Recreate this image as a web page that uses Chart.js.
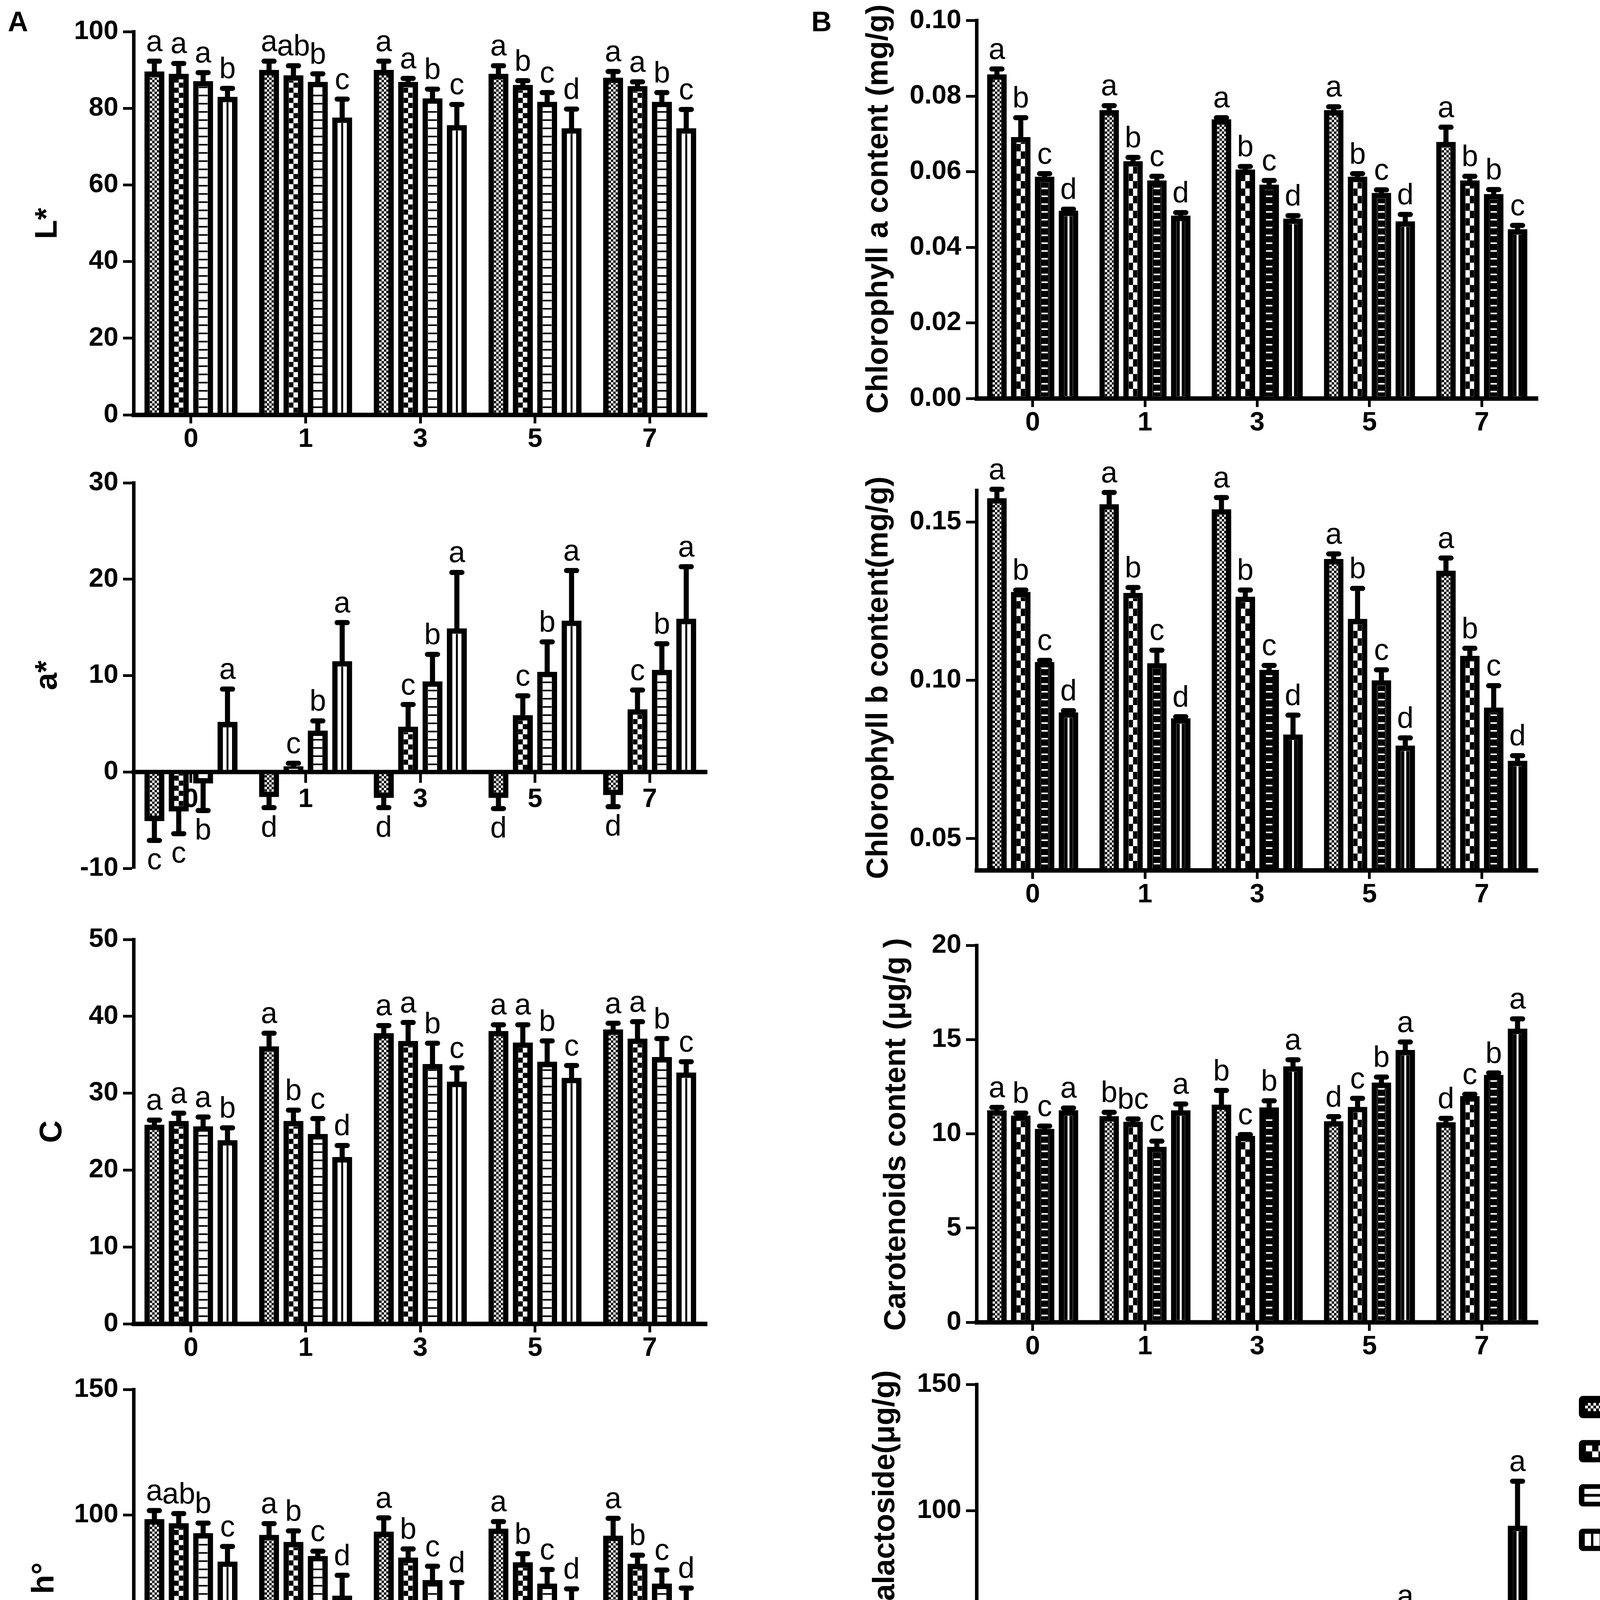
<!DOCTYPE html>
<html lang="en">
<head>
<meta charset="UTF-8">
<title>Dark treatment: colour and pigment content</title>
<script src="https://cdn.jsdelivr.net/npm/chart.js"></script>
<style>
  body { margin: 0; background: #fff; width: 4317px; height: 4766px; position: relative; overflow: hidden;
         font-family: 'Liberation Sans', Arial, sans-serif; color: #000; }
  canvas { position: absolute; }
  .ttl { position: absolute; font-weight: bold; white-space: nowrap; line-height: 1;
         transform: translate(-50%, -50%) rotate(-90deg); }
  .xt { position: absolute; font-weight: bold; font-size: 78px; white-space: nowrap; line-height: 1;
        transform: translate(-50%, -50%); }
  .pl { position: absolute; font-weight: bold; font-size: 72px; line-height: 1; }
</style>
</head>
<body>
<div class="pl" style="left:20px;top:19px">A</div>
<div class="pl" style="left:2077px;top:19px">B</div>

<div class="ttl" style="left:118px;top:572px;font-size:80px">L*</div>
<div class="ttl" style="left:118px;top:1729px;font-size:80px">a*</div>
<div class="ttl" style="left:130px;top:2897px;font-size:80px">C</div>
<div class="ttl" style="left:110px;top:4040px;font-size:80px">h°</div>

<div class="ttl" style="left:2245px;top:535px;font-size:77px">Chlorophyll a content (mg/g)</div>
<div class="ttl" style="left:2245px;top:1735px;font-size:77px">Chlorophyll b content(mg/g)</div>
<div class="ttl" style="left:2290px;top:2904px;font-size:77px">Carotenoids content (μg/g )</div>
<div class="ttl" style="left:2262px;top:4036px;font-size:77px">Cyanidin-3-galactoside(μg/g)</div>

<div class="xt" style="left:1076px;top:4702px">Dark treatment time (day)</div>
<div class="xt" style="left:3210px;top:4702px">Dark treatment time (day)</div>

<script>
const days = ['0', '1', '3', '5', '7'];
const groups = ['CK', 'G1', 'G2', 'G3'];

// L*  (rows: CK, G1, G2, G3; columns: days)
const lMean = [[89.6, 90.0, 90.0, 89.0, 88.0], [89.0, 88.6, 86.9, 86.1, 85.8], [87.1, 86.9, 82.6, 81.7, 81.7], [83.0, 77.6, 75.6, 74.8, 74.8]];
const lErr  = [[2.7, 2.3, 2.3, 2.1, 1.6], [2.7, 2.5, 0.9, 1.1, 1.1], [2.2, 2.1, 2.4, 2.4, 2.4], [2.2, 4.8, 5.4, 5.0, 4.9]];
const lSig  = [['a','a','a','a','a'], ['a','ab','a','b','a'], ['a','b','b','c','b'], ['b','c','c','d','c']];
const lTicks = [0, 20, 40, 60, 80, 100];

// a*
const aMean = [[-5.1, -2.6, -2.7, -2.7, -2.4], [-4.1, 0.6, 4.7, 5.9, 6.5], [-1.2, 4.3, 9.4, 10.4, 10.6], [5.2, 11.5, 14.9, 15.7, 15.9]];
const aErr  = [[2.0, 1.1, 1.0, 1.1, 1.2], [2.3, 0.3, 2.3, 2.0, 2.0], [2.8, 1.0, 2.8, 3.1, 2.7], [3.4, 4.0, 5.8, 5.2, 5.4]];
const aSig  = [['c','d','d','d','d'], ['c','c','c','c','c'], ['b','b','b','b','b'], ['a','a','a','a','a']];
const aTicks = [-10, 0, 10, 20, 30];

// C
const cMean = [[25.9, 36.1, 37.8, 38.1, 38.3], [26.4, 26.4, 36.8, 36.6, 37.1], [25.7, 24.7, 33.8, 34.1, 34.7], [23.9, 21.7, 31.5, 32.0, 32.7]];
const cErr  = [[0.6, 1.7, 1.0, 0.8, 0.8], [1.0, 1.4, 2.4, 2.3, 2.2], [1.2, 2.0, 2.7, 2.7, 2.4], [1.6, 1.5, 1.8, 1.6, 1.4]];
const cSig  = [['a','a','a','a','a'], ['a','b','a','a','a'], ['a','c','b','b','b'], ['b','d','c','c','c']];
const cTicks = [0, 10, 20, 30, 40, 50];

// h°
const hMean = [[98.3, 92.0, 93.3, 94.5, 91.7], [96.7, 89.2, 83.0, 81.1, 80.5], [92.7, 83.6, 74.0, 72.6, 72.6], [81.4, 67.8, 61.8, 60.5, 60.5]];
const hErr  = [[3.4, 4.5, 5.5, 2.8, 6.9], [3.8, 4.4, 3.4, 3.4, 3.4], [4.0, 1.9, 5.5, 5.6, 5.4], [6.0, 8.1, 11.2, 10.0, 10.3]];
const hSig  = [['a','a','a','a','a'], ['ab','b','b','b','b'], ['b','c','c','c','c'], ['c','d','d','d','d']];
const hTicks = [0, 50, 100, 150];

// Chlorophyll a
const chlaMean = [[0.0858, 0.0763, 0.0739, 0.0763, 0.0679], [0.0692, 0.0628, 0.0606, 0.0587, 0.0577], [0.0587, 0.0577, 0.0566, 0.0544, 0.0541], [0.0497, 0.0484, 0.0476, 0.0469, 0.0448]];
const chlaErr  = [[0.0014, 0.0012, 0.0004, 0.0009, 0.0039], [0.0051, 0.0010, 0.0008, 0.0008, 0.0011], [0.0008, 0.0011, 0.0011, 0.0008, 0.0012], [0.0004, 0.0008, 0.0008, 0.0018, 0.0010]];
const chlaSig  = [['a','a','a','a','a'], ['b','b','b','b','b'], ['c','c','c','c','b'], ['d','d','d','d','c']];
const chlaTicks = [0, 0.02, 0.04, 0.06, 0.08, 0.10];

// Chlorophyll b
const chlbMean = [[0.1575, 0.1556, 0.1540, 0.1383, 0.1346], [0.1279, 0.1276, 0.1264, 0.1194, 0.1077], [0.1058, 0.1054, 0.1033, 0.1000, 0.0914], [0.0899, 0.0880, 0.0829, 0.0794, 0.0746]];
const chlbErr  = [[0.0028, 0.0037, 0.0037, 0.0016, 0.0040], [0.0006, 0.0017, 0.0021, 0.0096, 0.0024], [0.0005, 0.0041, 0.0014, 0.0033, 0.0069], [0.0005, 0.0005, 0.0061, 0.0024, 0.0016]];
const chlbSig  = [['a','a','a','a','a'], ['b','b','b','b','b'], ['c','c','c','c','c'], ['d','d','d','d','d']];
const chlbTicks = [0.05, 0.10, 0.15];

// Carotenoids
const carMean = [[11.25, 10.94, 11.55, 10.67, 10.61], [10.97, 10.64, 9.89, 11.43, 12.0], [10.26, 9.31, 11.4, 12.72, 13.13], [11.25, 11.25, 13.58, 14.45, 15.58]];
const carErr  = [[0.15, 0.2, 0.75, 0.24, 0.21], [0.13, 0.15, 0.07, 0.45, 0.1], [0.15, 0.3, 0.35, 0.29, 0.1], [0.12, 0.33, 0.35, 0.42, 0.52]];
const carSig  = [['a','b','b','d','d'], ['b','bc','c','c','c'], ['c','c','b','b','b'], ['a','a','a','a','a']];
const carTicks = [0, 5, 10, 15, 20];

// Cyanidin-3-galactoside
const cyaMean = [[0, 0, 0, 0, 1.3], [0, 1.6, 10.1, 17.4, 27.4], [0, 6.0, 17.4, 23.3, 35.0], [0, 18.0, 31.6, 55.3, 94.1]];
const cyaErr  = [[0, 0, 0, 0, 0.3], [0, 0.5, 0.6, 1.5, 5.7], [0, 0.7, 0.6, 1.0, 2.1], [0, 0.9, 0.8, 3.2, 17.6]];
const cyaSig  = [['','d','d','d','d'], ['','c','c','bc','bc'], ['','b','b','b','b'], ['','a','a','a','a']];
const cyaTicks = [0, 50, 100, 150];

Chart.defaults.font.family = "'Liberation Sans', Arial, sans-serif";
Chart.defaults.color = '#000';

const BW = 14;
const tickFont = { size: 68, weight: 'bold' };

// fill the inside of one bar with its group's hatch
function hatch(ctx, g, style, l, t, w, h) {
  if (w <= 0 || h <= 0) return;
  const B = style === 'B';
  ctx.save();
  ctx.beginPath(); ctx.rect(l, t, w, h); ctx.clip();
  const bot = t + h;
  if (g === 0) {
    ctx.fillStyle = '#000'; ctx.fillRect(l, t, w, h);
    ctx.fillStyle = '#fff';
    const s = 6;
    for (let r = 0; r * s < h; r++)
      for (let c = 0; c * s < w; c++)
        if ((r + c) % 2) ctx.fillRect(l + c * s, bot - (r + 1) * s, s, s);
  } else if (g === 1) {
    ctx.fillStyle = '#000'; ctx.fillRect(l, t, w, h);
    ctx.fillStyle = '#fff';
    const cw = w / 2, ch = B ? 19 : 13;
    for (let r = 0; r * ch < h; r++) ctx.fillRect(l + (r % 2) * cw, bot - (r + 1) * ch, cw, ch);
  } else if (g === 2) {
    if (B) {
      ctx.fillStyle = '#000'; ctx.fillRect(l, t, w, h);
      ctx.fillStyle = '#fff';
      const dw = w * 0.75;
      for (let y = bot - 12; y > t; y -= 20) ctx.fillRect(l + (w - dw) / 2, y - 2, dw, 4);
    } else {
      ctx.fillStyle = '#fff'; ctx.fillRect(l, t, w, h);
      ctx.fillStyle = '#000';
      for (let y = bot - 14; y > t; y -= 21) ctx.fillRect(l, y - 2, w, 4);
    }
  } else {
    ctx.fillStyle = B ? '#000' : '#fff'; ctx.fillRect(l, t, w, h);
    ctx.fillStyle = B ? '#fff' : '#000';
    ctx.fillRect(l + w / 2 - 2.5, t, 5, h);
  }
  ctx.restore();
}

function drawLegend(ctx, ox, oy) {
  const rows = [3602, 3715, 3828, 3942];
  const bx = 4042 - ox, bw = 116, bh = 57;
  rows.forEach((yc, i) => {
    const by = yc - oy - bh / 2;
    ctx.fillStyle = '#000';
    ctx.beginPath();
    if (ctx.roundRect) ctx.roundRect(bx, by, bw, bh, 10); else ctx.rect(bx, by, bw, bh);
    ctx.fill();
    ctx.fillStyle = '#fff';
    if (i === 0) {
      const s = 7;
      for (let r = 0; r < 3; r++)
        for (let c = 0; c < 12; c++)
          if ((r + c) % 2) ctx.fillRect(bx + 16 + c * s, by + 18 + r * s, s, s);
    } else if (i === 1) {
      for (let c = 0; c < 5; c++) ctx.fillRect(bx + 18 + c * 16, by + 14 + (c % 2) * 15, 16, 15);
    } else if (i === 2) {
      ctx.fillRect(bx + 14, by + 12, bw - 28, 13);
      ctx.fillRect(bx + 14, by + 32, bw - 28, 13);
    } else {
      for (let c = 0; c < 4; c++) ctx.fillRect(bx + 15 + c * 22, by + 13, 16, bh - 26);
    }
    ctx.fillStyle = '#000';
    ctx.font = "67px 'Liberation Sans', Arial, sans-serif";
    ctx.textAlign = 'left'; ctx.textBaseline = 'middle';
    ctx.fillText(groups[i], 4213 - ox, yc - oy + 3);
  });
}

function decor(p) {
  return {
    id: 'decor',
    afterDatasetsDraw(chart) {
      const ctx = chart.ctx, ys = chart.scales.y, area = chart.chartArea;
      // hatches
      chart.data.datasets.forEach((ds, g) => {
        chart.getDatasetMeta(g).data.forEach((bar) => {
          const b = bar.getProps(['x', 'y', 'base', 'width'], true);
          const l = b.x - b.width / 2 + BW, w = b.width - 2 * BW;
          if (b.y < b.base) hatch(ctx, g, p.style, l, b.y + BW, w, b.base - b.y - BW - 5);
          else if (b.y > b.base) hatch(ctx, g, p.style, l, b.base + 5, w, b.y - b.base - BW - 5);
        });
      });
      // x axis line on top of the bars
      const y0 = p.zeroAxis ? ys.getPixelForValue(0) : area.bottom;
      ctx.save();
      ctx.fillStyle = '#000';
      ctx.fillRect(area.left - 4, y0 - 5.5, area.right - area.left + 4, 11);
      // error bars and letters
      chart.data.datasets.forEach((ds, g) => {
        chart.getDatasetMeta(g).data.forEach((bar, j) => {
          const v = ds.data[j], e = ds.err[j], s = v < 0 ? -1 : 1;
          const x = bar.x, yTop = bar.y;
          const yEnd = ys.getPixelForValue(v + s * e);
          if (e > 0) {
            ctx.strokeStyle = '#000'; ctx.lineCap = 'round';
            ctx.lineWidth = 13;
            ctx.beginPath(); ctx.moveTo(x, yTop); ctx.lineTo(x, yEnd); ctx.stroke();
            ctx.beginPath(); ctx.moveTo(x - 13, yEnd); ctx.lineTo(x + 13, yEnd); ctx.stroke();
          }
          const txt = ds.sig[j];
          if (!txt) return;
          ctx.fillStyle = '#000';
          ctx.font = "76px 'Liberation Sans', Arial, sans-serif";
          ctx.textAlign = 'center'; ctx.textBaseline = 'alphabetic';
          if (s > 0) ctx.fillText(txt, x, yEnd - 26);
          else ctx.fillText(txt, x, yEnd + 74);
        });
      });
      ctx.restore();
      if (p.legend) drawLegend(ctx, p.cv[0], p.cv[1]);
    }
  };
}

function makePanel(p) {
  const cv = document.createElement('canvas');
  cv.width = p.cv[2] - p.cv[0];
  cv.height = p.cv[3] - p.cv[1];
  cv.style.left = p.cv[0] + 'px';
  cv.style.top = p.cv[1] + 'px';
  document.body.appendChild(cv);
  const ca = p.ca;
  const datasets = groups.map((g, i) => ({
    label: g, data: p.mean[i], err: p.err[i], sig: p.sig[i],
    base: p.min > 0 ? p.min : 0,
    backgroundColor: '#fff', borderColor: '#000', borderWidth: BW,
    categoryPercentage: 0.85, barPercentage: 0.82
  }));
  new Chart(cv, {
    type: 'bar',
    data: { labels: days, datasets },
    options: {
      responsive: false, devicePixelRatio: 1, animation: false,
      layout: { padding: { left: 0, top: ca[1] - p.cv[1], right: p.cv[2] - ca[2], bottom: p.zeroAxis ? p.cv[3] - ca[3] : 0 } },
      plugins: { legend: { display: false }, tooltip: { enabled: false } },
      scales: {
        x: {
          position: p.zeroAxis ? { y: 0 } : 'bottom',
          grid: { drawOnChartArea: false, offset: false, tickLength: 22, tickWidth: 7, tickColor: '#000' },
          border: { width: 11, color: '#000' },
          ticks: { font: tickFont, color: '#000', padding: p.zeroAxis ? 8 : 0, maxRotation: 0 },
          afterFit: s => { if (!p.zeroAxis) s.height = p.cv[3] - ca[3]; }
        },
        y: {
          min: p.min, max: p.max,
          afterBuildTicks: s => { s.ticks = p.ticks.map(v => ({ value: v })); },
          grid: { drawOnChartArea: false, tickLength: 27, tickWidth: 7, tickColor: '#000' },
          border: { width: 9, color: '#000' },
          ticks: { font: tickFont, color: '#000', padding: 12, callback: v => p.fmt(v) },
          afterFit: s => { s.width = ca[0] - p.cv[0]; }
        }
      }
    },
    plugins: [decor(p)]
  });
}

const int = v => String(v);
const two = v => v.toFixed(2);
const AL = 342, AR = 1810, BL = 2500, BR = 3937;

makePanel({ style: 'A', mean: lMean, err: lErr, sig: lSig, ticks: lTicks, min: 0, max: 100, fmt: int,
  cv: [AL - 280, 0, AR + 45, 1190], ca: [AL, 81, AR, 1062] });
makePanel({ style: 'A', mean: aMean, err: aErr, sig: aSig, ticks: aTicks, min: -10, max: 30, fmt: int, zeroAxis: true,
  cv: [AL - 280, 1150, AR + 45, 2290], ca: [AL, 1236, AR, 2223] });
makePanel({ style: 'A', mean: cMean, err: cErr, sig: cSig, ticks: cTicks, min: 0, max: 50, fmt: int,
  cv: [AL - 280, 2300, AR + 45, 3520], ca: [AL, 2405, AR, 3389] });
makePanel({ style: 'A', mean: hMean, err: hErr, sig: hSig, ticks: hTicks, min: 0, max: 150, fmt: int,
  cv: [AL - 280, 3450, AR + 45, 4650], ca: [AL, 3557, AR, 4520] });

makePanel({ style: 'B', mean: chlaMean, err: chlaErr, sig: chlaSig, ticks: chlaTicks, min: 0, max: 0.10, fmt: two,
  cv: [BL - 260, 0, BR + 45, 1150], ca: [BL, 49, BR, 1020] });
makePanel({ style: 'B', mean: chlbMean, err: chlbErr, sig: chlbSig, ticks: chlbTicks, min: 0.04, max: 0.16, fmt: two,
  cv: [BL - 260, 1150, BR + 45, 2360], ca: [BL, 1255, BR, 2228] });
makePanel({ style: 'B', mean: carMean, err: carErr, sig: carSig, ticks: carTicks, min: 0, max: 20, fmt: int,
  cv: [BL - 260, 2310, BR + 45, 3510], ca: [BL, 2420, BR, 3385] });
makePanel({ style: 'B', mean: cyaMean, err: cyaErr, sig: cyaSig, ticks: cyaTicks, min: 0, max: 150, fmt: int, legend: true,
  cv: [BL - 260, 3450, 4317, 4640], ca: [BL, 3544, BR, 4515] });
</script>
</body>
</html>
